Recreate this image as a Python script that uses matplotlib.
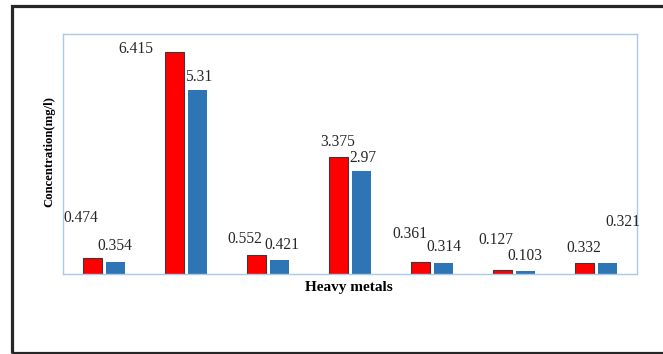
import numpy as np
import matplotlib.pyplot as plt
from matplotlib.patches import Rectangle

# Heavy metal concentrations (mg/l), two sampling series
metals = ["M1", "M2", "M3", "M4", "M5", "M6", "M7"]
series_a = [0.474, 6.415, 0.552, 3.375, 0.361, 0.127, 0.332]
series_b = [0.354, 5.31, 0.421, 2.97, 0.314, 0.103, 0.321]

# hand-placed label offsets (pixels from bar top centre)
offsets_a = [(-11, 40), (-38, 3), (-11, 16), (0, 15), (-10, 28), (-6, 30), (0, 15)]
offsets_b = [(-1, 16), (1, 13), (2, 15), (1, 13), (0, 16), (-1, 15), (15, 41)]

plt.rcParams['font.family'] = ['Liberation Serif', 'DejaVu Serif']

fig = plt.figure(figsize=(6.63, 3.54), dpi=100)
W, H = 663, 354
ax = fig.add_axes([63 / W, (H - 274.3) / H, (637 - 63) / W, (274.3 - 33.5) / H])

x = np.arange(len(metals))
bw = 0.23
off = 0.145
bars_a = ax.bar(x - off, series_a, bw, color='#ff0000', edgecolor='#3a3a3a', linewidth=0.8)
bars_b = ax.bar(x + off, series_b, bw, color='#2e75b6', linewidth=0)

for bars, vals, offs in [(bars_a, series_a, offsets_a), (bars_b, series_b, offsets_b)]:
    for b, v, (dx, dy) in zip(bars, vals, offs):
        ax.annotate(f"{v:g}", (b.get_x() + b.get_width() / 2, v),
                    xytext=(dx, dy), textcoords='offset pixels',
                    ha='center', va='center', fontsize=11.2, color='#262626')

ax.set_xlim(-0.5, len(metals) - 0.5)
ax.set_ylim(0, 6.95)
ax.set_xticks([])
ax.set_yticks([])
for s in ax.spines.values():
    s.set_color('#a9cbe9')
    s.set_linewidth(1.0)

fig.text(349 / W, 1 - 287 / H, "Heavy metals", ha='center', va='center',
         fontsize=11, fontweight='bold')
fig.text(49 / W, 1 - 152 / H, "Concentration(mg/l)", ha='center', va='center',
         rotation=90, fontsize=9.2, fontweight='bold')

# outer frame, open on the right
fig.patches.append(Rectangle((11.5 / W, 1.5 / H), 1.2, (H - 7.5) / H,
                             transform=fig.transFigure, fill=False,
                             edgecolor='#262626', linewidth=2.3))

fig.savefig("out.png", dpi=100)
